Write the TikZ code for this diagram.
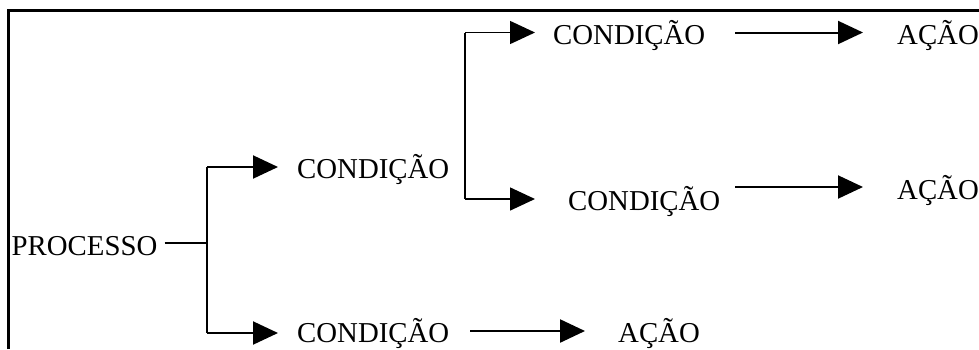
\documentclass[tikz,border=0pt]{standalone}
\usepackage{fontspec}
\setmainfont{Liberation Serif}
\usetikzlibrary{arrows.meta}
\tikzset{
  lbl/.style={font=\fontsize{28.8}{32}\selectfont, inner sep=0pt, anchor=base west},
  frame/.style={line width=3pt, line join=miter},
  ln/.style={line width=1.6pt},
  arr/.style={line width=2pt, -{Triangle[length=25pt,width=23pt]}},
  barr/.style={line width=1.5pt, -{Triangle[length=25pt,width=23pt]}}
}
\begin{document}
\begin{tikzpicture}[x=1pt,y=-1pt]
\useasboundingbox (0,0) rectangle (979,349);

% open frame: left and top edges
\draw[frame] (8.2,349) -- (8.2,10.8) -- (979,10.8);

% labels
\node[lbl] (proc) at (11.5,255.5) {PROCESSO};
\node[lbl] (c1)   at (297,178)    {CONDIÇÃO};
\node[lbl] (c2)   at (297,342.5)  {CONDIÇÃO};
\node[lbl] (c11)  at (553,44.5)   {CONDIÇÃO};
\node[lbl] (c12)  at (568,210.5)  {CONDIÇÃO};
\node[lbl] (a11)  at (897,44.5)   {AÇÃO};
\node[lbl] (a12)  at (897,199)    {AÇÃO};
\node[lbl] (a2)   at (618,342)    {AÇÃO};

% first fork
\coordinate (f1) at (207,243);
\coordinate (u1) at (207,167);
\coordinate (d1) at (207,333);
\draw[line width=2pt, shorten <=7pt] (proc.east |- f1) -- (f1);
\draw[line width=2pt] (u1) -- (d1);
\draw[arr, shorten >=19pt] (u1) -- (u1 -| c1.west);
\draw[arr, shorten >=19pt] (d1) -- (d1 -| c2.west);

% second fork
\coordinate (u2) at (465,32.5);
\coordinate (d2) at (465,199);
\draw[ln] (u2) -- (d2);
\draw[barr, shorten >=18pt] (u2) -- (u2 -| c11.west);
\draw[barr, shorten >=33pt] (d2) -- (d2 -| c12.west);

% conditions to actions
\coordinate (y12) at (0,187);
\coordinate (y2) at (0,331);
\draw[arr, shorten <=30pt, shorten >=34pt] (c11.east |- u2) -- (a11.west |- u2);
\draw[arr, shorten <=15pt, shorten >=34pt] (c12.east |- y12) -- (a12.west |- y12);
\draw[arr, line width=2.4pt, shorten <=21pt, shorten >=33pt] (c2.east |- y2) -- (a2.west |- y2);
\end{tikzpicture}
\end{document}
